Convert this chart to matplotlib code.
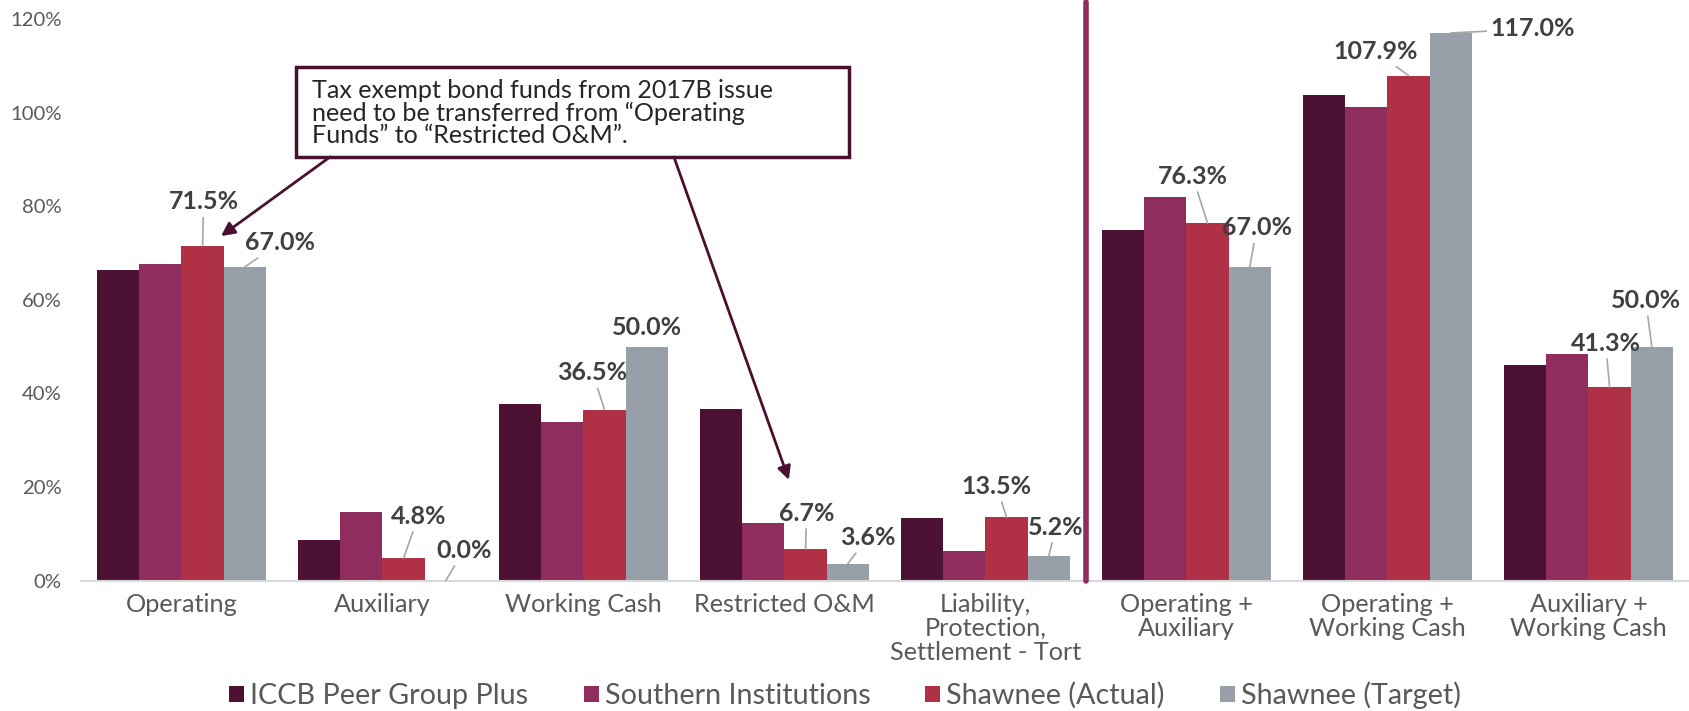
import matplotlib

matplotlib.use("Agg")
import matplotlib.pyplot as plt  # noqa: E402
import numpy as np  # noqa: E402
from matplotlib.patches import Rectangle  # noqa: E402

# ----------------------------------------------------------------------------
# Data: fund balance as % of expenditures
# ----------------------------------------------------------------------------
categories = [
    "Operating",
    "Auxiliary",
    "Working Cash",
    "Restricted O&M",
    "Liability,\nProtection,\nSettlement - Tort",
    "Operating +\nAuxiliary",
    "Operating +\nWorking Cash",
    "Auxiliary +\nWorking Cash",
]
series_names = [
    "ICCB Peer Group Plus",
    "Southern Institutions",
    "Shawnee (Actual)",
    "Shawnee (Target)",
]
iccb_peer = [66.4, 8.6, 37.7, 36.7, 13.4, 75.0, 103.8, 46.1]
southern = [67.6, 14.6, 33.8, 12.3, 6.4, 81.9, 101.2, 48.3]
shawnee_actual = [71.5, 4.8, 36.5, 6.7, 13.5, 76.3, 107.9, 41.3]
shawnee_target = [67.0, 0.0, 50.0, 3.6, 5.2, 67.0, 117.0, 50.0]

note_lines = [
    "Tax exempt bond funds from 2017B issue",
    "need to be transferred from \u201cOperating",
    "Funds\u201d to \u201cRestricted O&M\u201d.",
]

# ----------------------------------------------------------------------------
# Styling
# ----------------------------------------------------------------------------
colors = ["#4D1233", "#8E2D5E", "#B03045", "#97A0A8"]
text_grey = "#595959"
label_grey = "#404040"
maroon = "#4A1030"
DPI = 100
plt.rcParams["font.family"] = ["Lato", "DejaVu Sans"]

BAR_W = 0.21
# label offsets (pixels) from the top of each labelled bar, keyed by (group, series)
label_offsets = {
    (0, 2): (1, 44), (0, 3): (35, 24),
    (1, 2): (15, 42), (1, 3): (18, 30),
    (2, 2): (-12, 37), (2, 3): (0, 19),
    (3, 2): (1, 36), (3, 3): (20, 26),
    (4, 2): (-10, 31), (4, 3): (7, 29),
    (5, 2): (-15, 47), (5, 3): (7, 39),
    (6, 2): (-33, 24), (6, 3): (82, 4),
    (7, 2): (-4, 44), (7, 3): (-6, 46),
}

fig = plt.figure(figsize=(16.9, 7.11), dpi=DPI)
renderer = fig.canvas.get_renderer()


def fit_size(sample, width_px, weight="normal", base=20.0):
    """Font size (pt) at which `sample` renders `width_px` pixels wide."""
    t = fig.text(0, 0, sample, fontsize=base, fontweight=weight)
    w = t.get_window_extent(renderer=renderer).width
    t.remove()
    return base * width_px / w


fs_note = fit_size(note_lines[0], 462)
fs_cat = fit_size("Working Cash", 157)
fs_tick = fit_size("0%", 28)
fs_leg = fit_size("Southern Institutions", 267)
fs_lab = fit_size("76.3%", 70, weight="bold")

ax = fig.add_axes([0.0479, 0.1835, 0.9515, 0.8136])

x = np.arange(len(categories))
all_series = [iccb_peer, southern, shawnee_actual, shawnee_target]
for j, (vals, name, col) in enumerate(zip(all_series, series_names, colors)):
    ax.bar(x + (j - 1.5) * BAR_W, vals, BAR_W, color=col, label=name, zorder=2)

# data labels for the two Shawnee series
for (i, j), (dx, dy) in label_offsets.items():
    v = all_series[j][i]
    xb = x[i] + (j - 1.5) * BAR_W
    lead = dict(arrowstyle="-", color="#A6A6A6", lw=1.2, shrinkA=1, shrinkB=0)
    ax.annotate(f"{v:.1f}%", xy=(xb, v), xytext=(dx, dy), textcoords="offset pixels",
                ha="center", va="center", fontsize=fs_lab, fontweight="bold", color=label_grey,
                arrowprops=lead if np.hypot(dx, dy) > 25 else None, zorder=4)

# divider between single funds and combined funds
ax.axvline(4.5, color="#8E2D5E", lw=4, solid_capstyle="round", zorder=3, clip_on=False)

# call-out box and arrows
ax.add_patch(Rectangle((0.570, 90.5), 2.751, 19.2, facecolor="white", edgecolor=maroon,
                       lw=2.5, zorder=5))
ax.text(0.649, 99.9, "\n".join(note_lines), ha="left", va="center", fontsize=fs_note,
        color="#262626", linespacing=0.95, zorder=6)
arrow = dict(arrowstyle="-|>", color=maroon, lw=2, mutation_scale=20, shrinkA=0, shrinkB=0)
ax.annotate("", xy=(0.197, 73.6), xytext=(0.739, 90.5), arrowprops=arrow, zorder=5)
ax.annotate("", xy=(3.022, 21.5), xytext=(2.450, 90.5), arrowprops=arrow, zorder=5)

ax.set_xlim(-0.5, 7.5)
ax.set_ylim(0, 123.6)
ax.set_yticks(np.arange(0, 121, 20))
ax.set_yticklabels([f"{t}%" for t in range(0, 121, 20)])
ax.set_xticks(x)
ax.set_xticklabels(categories, linespacing=1.05)
ax.tick_params(axis="y", length=0, pad=14, labelsize=fs_tick, labelcolor=text_grey)
ax.tick_params(axis="x", length=0, pad=9, labelsize=fs_cat, labelcolor=text_grey)
for side in ["top", "right", "left"]:
    ax.spines[side].set_visible(False)
ax.spines["bottom"].set_color("#D9D9D9")
ax.spines["bottom"].set_linewidth(1.5)

leg_px = fs_leg * DPI / 72
fig.legend(loc="center", bbox_to_anchor=(0.5, 0.022), ncol=4, frameon=False,
           fontsize=fs_leg, labelcolor=text_grey, handlelength=15 / leg_px,
           handleheight=15 / leg_px, handletextpad=6 / leg_px, columnspacing=55 / leg_px)

fig.savefig("out.png", dpi=DPI)
plt.close(fig)
